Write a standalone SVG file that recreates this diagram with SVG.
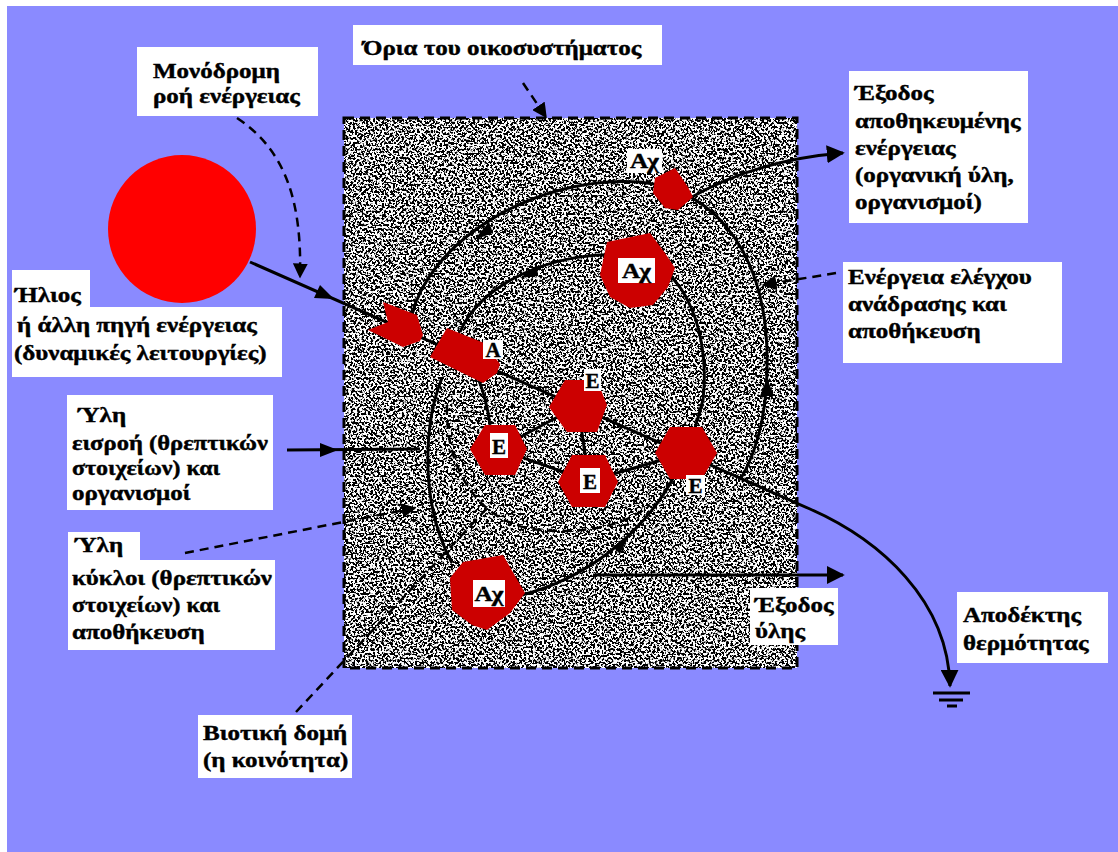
<svg xmlns="http://www.w3.org/2000/svg" width="1118" height="852" viewBox="0 0 1118 852">
<defs>
<filter id="noise" x="0" y="0" width="100%" height="100%" filterUnits="objectBoundingBox">
<feTurbulence type="fractalNoise" baseFrequency="0.45" numOctaves="2" seed="7" result="t"/>
<feColorMatrix in="t" type="matrix" values="1 0 0 0 0 1 0 0 0 0 1 0 0 0 0 0 0 0 0 1" result="g"/>
<feComponentTransfer in="g">
<feFuncR type="linear" slope="14" intercept="-6.6"/>
<feFuncG type="linear" slope="14" intercept="-6.6"/>
<feFuncB type="linear" slope="14" intercept="-6.6"/>
</feComponentTransfer>
</filter>
<marker id="ahs" viewBox="0 0 10 10" refX="9" refY="5" markerWidth="6" markerHeight="6" orient="auto" markerUnits="strokeWidth">
<path d="M0,0 L10,5 L0,10 z" fill="#000"/>
</marker>
</defs>
<style>
.lbl{fill:#fff}
.t{font-family:"Liberation Serif","Times New Roman",serif;font-weight:bold;font-size:20px;fill:#000;stroke:#000;stroke-width:0.4}
.nt{font-family:"Liberation Serif","Times New Roman",serif;font-weight:bold;font-size:21px;fill:#000;stroke:#000;stroke-width:0.4}
.node{fill:#cc0000}
.ln{fill:none;stroke:#000;stroke-width:3}
.dl{fill:none;stroke:#000;stroke-width:2.5;stroke-dasharray:9,6}
.ah{fill:#000}
</style>
<rect x="0" y="0" width="1118" height="852" fill="#fff"/>
<rect x="7" y="6" width="1111" height="846" fill="#8a8aff"/>

<g id="ecosystem">
<rect x="344" y="118" width="453" height="550" fill="#fff" filter="url(#noise)"/>
<rect x="344" y="118" width="453" height="550" fill="none" stroke="#000" stroke-width="3" stroke-dasharray="10,6"/>
</g>

<g id="sun">
<circle cx="182" cy="229" r="74" fill="#ff0000"/>
</g>

<g id="connectors">
<path class="ln" d="M250,262 L810,509 C880,540 948,600 950,686" marker-end="url(#ahs)"/>
<polygon class="ah" points="334,299 314,298 320,285"/>
<path class="ln" d="M412,315 C428,245 530,175 640,182 C720,190 770,260 767,370 C766,420 755,455 740,480"/>
<polygon class="ah" points="474,240 489,222 493,233"/>
<polygon class="ah" points="767,378 760,396 774,396"/>
<path class="ln" d="M460,332 C480,285 550,250 630,255 C690,265 710,340 703,400 L695,428"/>
<polygon class="ah" points="520,278 537,265 538,276"/>
<path class="ln" d="M478,378 C485,395 488,410 490,425"/>
<path class="ln" d="M442,378 C425,420 418,500 452,563"/>
<path class="ln" d="M522,595 C580,580 640,540 675,475"/>
<polygon class="ah" points="630,534 613,547 620,554"/>
<path class="ln" d="M498,449 L578,406 L589,481 L686,453 M498,449 L589,481"/>
<path class="ln" d="M287,450 L420,449"/>
<polygon class="ah" points="338,450 320,443 320,457"/>
<path class="ln" stroke-width="2.5" d="M593,575 L843,575" marker-end="url(#ahs)"/>
<path class="ln" stroke-width="2.5" d="M690,198 C730,175 780,158 843,153" marker-end="url(#ahs)"/>
<path class="dl" d="M447,405 C445,470 480,525 540,530 C590,534 625,525 650,505"/>
<path class="dl" d="M296,712 L490,505"/>
<path class="dl" d="M185,553 L415,508" marker-end="url(#ahs)"/>
<path class="dl" d="M836,273 L763,285" marker-end="url(#ahs)"/>
<path class="dl" d="M523,83 L546,117" marker-end="url(#ahs)"/>
<path class="dl" d="M237,118 C285,150 302,200 300,277" marker-end="url(#ahs)"/>
<path fill="none" stroke="#000" stroke-width="3" d="M933,693 L970,693 M939,700 L963,700 M947,706 L957,706"/>
</g>

<g id="node-chevron"><polygon class="node" points="383,302 417,315 423,335 420,341 403,347 368,330 388,322"/></g>
<g id="node-A"><polygon class="node" points="430,357 447,328 484,343 500,364 497,373 483,383"/>
<rect class="lbl" x="483" y="340" width="20" height="19"/><text class="nt" x="493" y="357" text-anchor="middle">Α</text></g>
<g id="node-Ach-top"><polygon class="node" points="655,178 675,168 688,187 693,197 678,210 665,208 653,193"/>
<rect class="lbl" x="627" y="149" width="35" height="24"/><text class="nt" transform="translate(644.5,168) scale(1.2,1)" text-anchor="middle">Αχ</text></g>
<g id="node-Ach-big"><polygon class="node" points="607,242 650,233 665,253 675,268 668,287 653,305 630,308 610,297 600,275"/>
<rect class="lbl" x="618" y="258" width="37" height="25"/><text class="nt" transform="translate(636.5,278) scale(1.2,1)" text-anchor="middle">Αχ</text></g>
<g id="node-E-top"><polygon class="node" points="549,407 565,380 597,380 607,405 597,432 567,432"/>
<rect class="lbl" x="584" y="369" width="17" height="22"/><text class="nt" x="592.5" y="388" text-anchor="middle">Ε</text></g>
<g id="node-E-left"><polygon class="node" points="470,449 485,425 515,425 527,449 515,475 485,475"/>
<rect class="lbl" x="490" y="433" width="18" height="25"/><text class="nt" x="499" y="454" text-anchor="middle">Ε</text></g>
<g id="node-E-low"><polygon class="node" points="558,482 572,455 605,455 618,482 605,507 572,507"/>
<rect class="lbl" x="580" y="468" width="20" height="25"/><text class="nt" x="590" y="489" text-anchor="middle">Ε</text></g>
<g id="node-E-right"><polygon class="node" points="655,453 670,427 702,427 717,453 702,479 670,479"/>
<rect class="lbl" x="686" y="475" width="19" height="20"/><text class="nt" x="695.5" y="493" text-anchor="middle">Ε</text></g>
<g id="node-Ach-bottom"><polygon class="node" points="450,578 463,562 503,555 525,593 510,613 487,630 472,625 452,610"/>
<rect class="lbl" x="473" y="580" width="32" height="27"/><text class="nt" transform="translate(489,601) scale(1.2,1)" text-anchor="middle">Αχ</text></g>

<g id="label-boundary"><rect class="lbl" x="353" y="25" width="309" height="40"/>
<text class="t" transform="translate(363,55) scale(1.25,1)">Όρια του οικοσυστήματος</text></g>
<g id="label-oneway"><rect class="lbl" x="137" y="47" width="181" height="69"/>
<text class="t" transform="translate(153,78) scale(1.25,1)">Μονόδρομη</text><text class="t" transform="translate(153,103) scale(1.25,1)">ροή ενέργειας</text></g>
<g id="label-sun"><rect class="lbl" x="12" y="270" width="78" height="40"/><rect class="lbl" x="12" y="307" width="270" height="70"/>
<text class="t" transform="translate(15,302) scale(1.25,1)">Ήλιος</text><text class="t" transform="translate(17,332) scale(1.25,1)">ή άλλη πηγή ενέργειας</text><text class="t" transform="translate(14,360) scale(1.25,1)">(δυναμικές λειτουργίες)</text></g>
<g id="label-input"><rect class="lbl" x="67" y="395" width="206" height="115"/>
<text class="t" transform="translate(78,422) scale(1.25,1)">Ύλη</text><text class="t" x="72" y="450" textLength="196" lengthAdjust="spacingAndGlyphs">εισροή (θρεπτικών</text><text class="t" transform="translate(72,475) scale(1.2,1)">στοιχείων) και</text><text class="t" transform="translate(72,500) scale(1.25,1)">οργανισμοί</text></g>
<g id="label-cycles"><rect class="lbl" x="68" y="532" width="72" height="30"/><rect class="lbl" x="68" y="560" width="207" height="90"/>
<text class="t" transform="translate(75,552) scale(1.25,1)">Ύλη</text><text class="t" x="72" y="585" textLength="200" lengthAdjust="spacingAndGlyphs">κύκλοι (θρεπτικών</text><text class="t" transform="translate(72,612) scale(1.2,1)">στοιχείων) και</text><text class="t" transform="translate(72,639) scale(1.25,1)">αποθήκευση</text></g>
<g id="label-biotic"><rect class="lbl" x="198" y="715" width="154" height="63"/>
<text class="t" transform="translate(203,740) scale(1.25,1)">Βιοτική δομή</text><text class="t" transform="translate(203,767) scale(1.25,1)">(η κοινότητα)</text></g>
<g id="label-stored"><rect class="lbl" x="849" y="71" width="179" height="152"/>
<text class="t" transform="translate(855,100) scale(1.25,1)">Έξοδος</text><text class="t" transform="translate(855,128) scale(1.25,1)">αποθηκευμένης</text><text class="t" transform="translate(855,155) scale(1.25,1)">ενέργειας</text><text class="t" transform="translate(855,182) scale(1.25,1)">(οργανική ύλη,</text><text class="t" transform="translate(855,209) scale(1.25,1)">οργανισμοί)</text></g>
<g id="label-feedback"><rect class="lbl" x="843" y="262" width="219" height="101"/>
<text class="t" transform="translate(848,284) scale(1.25,1)">Ενέργεια ελέγχου</text><text class="t" transform="translate(848,311) scale(1.25,1)">ανάδρασης και</text><text class="t" transform="translate(848,338) scale(1.25,1)">αποθήκευση</text></g>
<g id="label-matter-out"><rect class="lbl" x="750" y="588" width="88" height="57"/>
<text class="t" transform="translate(755,612) scale(1.25,1)">Έξοδος</text><text class="t" transform="translate(755,638) scale(1.25,1)">ύλης</text></g>
<g id="label-heat"><rect class="lbl" x="957" y="592" width="151" height="71"/>
<text class="t" transform="translate(963,622) scale(1.25,1)">Αποδέκτης</text><text class="t" transform="translate(963,650) scale(1.25,1)">θερμότητας</text></g>
</svg>
